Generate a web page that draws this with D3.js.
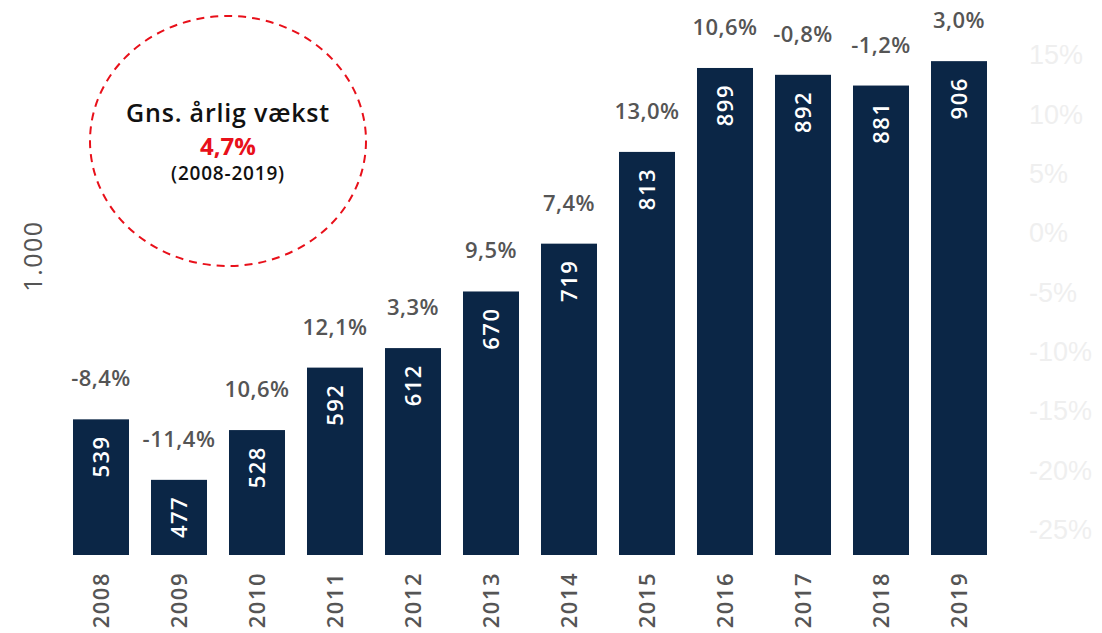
<!DOCTYPE html>
<html>
<head>
<meta charset="utf-8">
<script src="https://cdn.jsdelivr.net/npm/d3@7"></script>
<style>
  body { margin: 0; background: #fff; }
  svg { display: block; font-family: "Open Sans", "Noto Sans", sans-serif; }
</style>
</head>
<body>
<svg id="chart"></svg>
<script>
var width = 1102;
var height = 633;

// data
var years = ["2008", "2009", "2010", "2011", "2012", "2013", "2014", "2015", "2016", "2017", "2018", "2019"];
var values = [539, 477, 528, 592, 612, 670, 719, 813, 899, 892, 881, 906];
var growth = [-8.4, -11.4, 10.6, 12.1, 3.3, 9.5, 7.4, 13.0, 10.6, -0.8, -1.2, 3.0];
var pctTicks = [15, 10, 5, 0, -5, -10, -15, -20, -25];
var avgGrowth = 4.7;

var svg = d3.select("#chart").attr("width", width).attr("height", height);

var x = d3.scaleBand().domain(years).range([62, 998]).paddingInner(0.282).paddingOuter(0.141);
var y = d3.scaleLinear().domain([400, 1000]).range([555, -30.6]);
var yPct = d3.scaleLinear().domain([-25, 15]).range([530, 55]);

// danish style: comma decimal, plain hyphen for minus
var comma = function(v) { return v.toFixed(1).replace(".", ",") + "%"; };

// right axis (very faint)
var right = svg.append("g").attr("transform", "translate(1021,0)")
  .call(d3.axisRight(yPct).tickValues(pctTicks).tickSize(0).tickPadding(8).tickFormat(function(d) { return d + "%"; }));
right.select(".domain").remove();
right.selectAll("text").attr("fill", "#efefef").style("font-size", "27px").style("font-weight", 300);

// bars
var bars = svg.append("g").selectAll("rect").data(values).enter().append("rect")
  .attr("x", function(d, i) { return x(years[i]); })
  .attr("y", function(d) { return y(d); })
  .attr("width", x.bandwidth())
  .attr("height", function(d) { return y(400) - y(d); })
  .attr("fill", "#0b2646");

// value labels inside bars
svg.append("g").selectAll("text").data(values).enter().append("text")
  .attr("transform", function(d, i) {
    return "translate(" + (x(years[i]) + x.bandwidth() / 2 + 8) + "," + (y(d) + 16) + ") rotate(-90)";
  })
  .attr("text-anchor", "end")
  .attr("fill", "#fff")
  .style("font-size", "22px")
  .style("font-weight", 600)
  .style("letter-spacing", "1.5px")
  .text(function(d) { return d; });

// growth labels above bars
svg.append("g").selectAll("text").data(growth).enter().append("text")
  .attr("x", function(d, i) { return x(years[i]) + x.bandwidth() / 2; })
  .attr("y", function(d, i) { return y(values[i]) - 33; })
  .attr("text-anchor", "middle")
  .attr("fill", "#555")
  .style("font-size", "22px")
  .style("font-weight", 600)
  .style("letter-spacing", "0.5px")
  .text(comma);

// year labels
svg.append("g").selectAll("text").data(years).enter().append("text")
  .attr("transform", function(d) {
    return "translate(" + (x(d) + x.bandwidth() / 2 + 8) + ",572) rotate(-90)";
  })
  .attr("text-anchor", "end")
  .attr("fill", "#555")
  .style("font-size", "22px")
  .style("font-weight", 600)
  .style("letter-spacing", "1.5px")
  .text(function(d) { return d; });

// left leftover axis label
svg.append("text")
  .attr("transform", "translate(42,256) rotate(-90)")
  .attr("text-anchor", "middle")
  .attr("fill", "#555")
  .style("font-size", "25px")
  .style("letter-spacing", "1.5px")
  .text("1.000");

// average growth bubble
var bubble = svg.append("g").attr("transform", "translate(228,141)");
bubble.append("ellipse")
  .attr("rx", 138).attr("ry", 125)
  .attr("fill", "none")
  .attr("stroke", "#e8101a")
  .attr("stroke-width", 2)
  .attr("stroke-dasharray", "8,6");
bubble.append("text").attr("y", -19).attr("text-anchor", "middle")
  .attr("fill", "#111").style("font-size", "25px").style("font-weight", 600)
  .style("letter-spacing", "0.8px")
  .text("Gns. årlig vækst");
bubble.append("text").attr("y", 14).attr("text-anchor", "middle")
  .attr("fill", "#e8101a").style("font-size", "24px").style("font-weight", 700)
  .text(comma(avgGrowth));
bubble.append("text").attr("y", 39).attr("text-anchor", "middle")
  .attr("fill", "#111").style("font-size", "19px").style("font-weight", 600)
  .style("letter-spacing", "0.8px")
  .text("(2008-2019)");
</script>
</body>
</html>
